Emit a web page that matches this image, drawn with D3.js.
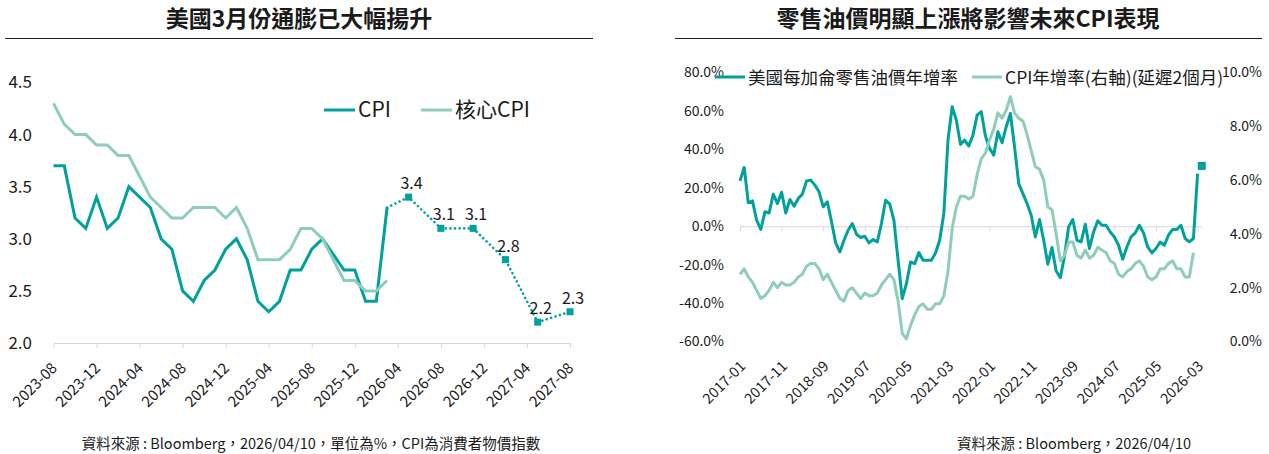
<!DOCTYPE html>
<html>
<head>
<meta charset="utf-8">
<script src="https://cdn.jsdelivr.net/npm/d3@7"></script>
<style>
body { margin: 0; background: #fff; }
text { font-family: "Noto Sans CJK TC", "Noto Sans", sans-serif; fill: #1a1a1a; }
</style>
</head>
<body>
<svg id="chart" width="1269" height="454"></svg>
<script>
// ---- left chart data (monthly from 2023-08) ----
var leftStart = "2023-08";
var leftTickLabels = ["2023-08","2023-12","2024-04","2024-08","2024-12","2025-04","2025-08",
                      "2025-12","2026-04","2026-08","2026-12","2027-04","2027-08"];
var cpi     = [3.7,3.7,3.2,3.1,3.4,3.1,3.2,3.5,3.4,3.3,3.0,2.9,2.5,2.4,2.6,2.7,2.9,3.0,
               2.8,2.4,2.3,2.4,2.7,2.7,2.9,3.0,null,2.7,2.7,2.4,2.4,3.3];
var coreCpi = [4.3,4.1,4.0,4.0,3.9,3.9,3.8,3.8,3.6,3.4,3.3,3.2,3.2,3.3,3.3,3.3,3.2,3.3,
               3.1,2.8,2.8,2.8,2.9,3.1,3.1,3.0,null,2.6,2.6,2.5,2.5,2.6];
var fcMonths = ["2026-05","2026-08","2026-11","2027-02","2027-05","2027-08"];
var fcValues = [3.4,3.1,3.1,2.8,2.2,2.3];
var leftYTicks = [2.0,2.5,3.0,3.5,4.0,4.5];

// ---- right chart data (monthly from 2017-01) ----
var rightStart = "2017-01";
var rightTickLabels = ["2017-01","2017-11","2018-09","2019-07","2020-05","2021-03",
                       "2022-01","2022-11","2023-09","2024-07","2025-05","2026-03"];
var gasYoY = [23.6,30.6,12.2,13.2,3.1,-1.7,7.5,6.9,16.7,11.8,17.7,6.9,
              13.9,10.4,14.4,16.7,23.6,24.0,21.4,17.9,10.1,12.7,2.3,-8.7,
              -13.4,-7.3,-2.1,1.4,-4.2,-5.9,-5.2,-8.7,-6.9,-8.2,1.4,13.5,
              11.5,3.1,-17.7,-37.7,-29.9,-18.6,-19.5,-13.7,-17.7,-17.7,-17.7,-13.9,
              -7.3,6.6,44.8,62.2,55.2,42.6,44.8,41.7,47.4,57.8,59.6,46.9,
              40.5,37.0,49.2,43.4,51.8,58.7,41.3,22.2,17.0,11.8,5.7,-5.6,
              3.5,-7.3,-19.8,-11.1,-23.3,-26.8,-15.6,-0.3,3.5,-7.3,-8.2,1.0,
              -11.6,-3.0,2.8,0.5,0.5,-3.0,-5.6,-9.9,-17.2,-10.8,-5.6,-3.5,
              0.5,-3.5,-10.8,-13.9,-11.6,-8.2,-9.9,-4.7,-1.7,-1.7,0.5,-6.4,
              -8.2,-6.4,27.4];
var cpiYoY = [2.5,2.7,2.4,2.2,1.9,1.6,1.7,1.9,2.2,2.0,2.2,2.1,
              2.1,2.2,2.4,2.5,2.8,2.9,2.9,2.7,2.3,2.5,2.2,1.9,
              1.6,1.5,1.9,2.0,1.8,1.6,1.8,1.7,1.7,1.8,2.1,2.3,
              2.5,2.3,1.5,0.3,0.1,0.6,1.0,1.3,1.4,1.2,1.2,1.4,
              1.4,1.7,2.6,4.2,5.0,5.4,5.4,5.3,5.4,6.2,6.8,7.0,
              7.5,7.9,8.5,8.3,8.6,9.1,8.5,8.3,8.2,7.7,7.1,6.5,
              6.4,6.0,5.0,4.9,4.0,3.0,3.2,3.7,3.7,3.2,3.1,3.4,
              3.1,3.2,3.5,3.4,3.3,3.0,2.9,2.5,2.4,2.6,2.7,2.9,
              3.0,2.8,2.4,2.3,2.4,2.7,2.7,2.9,3.0,2.7,2.7,2.4,
              2.4,3.3];
var gasEstMonth = "2026-04";
var gasEstValue = 31.4;
var rightLTicks = [-60,-40,-20,0,20,40,60,80];
var rightRTicks = [0,2,4,6,8,10];

var dark = "#00a19c", light = "#8fcdb9", axisGrey = "#d9d9d9";

function monthIndex(s, base) {
  var a = s.split("-"), b = base.split("-");
  return (+a[0] - +b[0]) * 12 + (+a[1] - +b[1]);
}

var svg = d3.select("#chart");

// ================= LEFT CHART =================
var xL = d3.scaleLinear().domain([0, 48]).range([53.5, 570]);
var yL = d3.scaleLinear().domain([2, 4.5]).range([343, 82.5]);

svg.append("text").attr("x", 299).attr("y", 27).attr("text-anchor", "middle")
  .style("font-size", "23px").style("font-weight", "bold").text("美國3月份通膨已大幅揚升");
svg.append("line").attr("x1", 5).attr("x2", 593).attr("y1", 38.5).attr("y2", 38.5)
  .attr("stroke", "#222").attr("stroke-width", 1.2);

var gyL = svg.append("g").attr("transform", "translate(32,0)")
  .call(d3.axisLeft(yL).tickValues(leftYTicks).tickFormat(d3.format(".1f")).tickSize(0).tickPadding(0));
gyL.select(".domain").remove();
gyL.selectAll("text").style("font-size", "17px").style("font-family", null);

var gxL = svg.append("g").attr("transform", "translate(0," + yL(2) + ")")
  .call(d3.axisBottom(xL).tickValues(d3.range(0, 49, 4)).tickSize(5).tickSizeOuter(0)
    .tickFormat(function(d, i) { return leftTickLabels[i]; }));
gxL.select(".domain").attr("stroke", axisGrey);
gxL.selectAll(".tick line").attr("stroke", axisGrey);
gxL.selectAll("text")
  .attr("x", 4).attr("y", 26).attr("dy", null)
  .attr("text-anchor", "end")
  .attr("transform", "rotate(-45 4 26)")
  .style("font-size", "15px").style("font-family", null);

var lineL = d3.line().x(function(d) { return xL(d.i); }).y(function(d) { return yL(d.v); });
function pts(arr) {
  return arr.map(function(v, i) { return {i: i, v: v}; }).filter(function(d) { return d.v != null; });
}

svg.append("path").datum(pts(cpi)).attr("d", lineL)
  .attr("fill", "none").attr("stroke", dark).attr("stroke-width", 3);
svg.append("path").datum(pts(coreCpi)).attr("d", lineL)
  .attr("fill", "none").attr("stroke", light).attr("stroke-width", 3);

var fc = fcMonths.map(function(m, k) { return {i: monthIndex(m, leftStart), v: fcValues[k]}; });
var lastCpi = {i: cpi.length - 1, v: cpi[cpi.length - 1]};
svg.append("path").datum([lastCpi].concat(fc)).attr("d", lineL)
  .attr("fill", "none").attr("stroke", dark).attr("stroke-width", 2.6)
  .attr("stroke-linecap", "round").attr("stroke-dasharray", "0.01 4.6");
svg.selectAll(".fcsq").data(fc).enter().append("rect")
  .attr("x", function(d) { return xL(d.i) - 3.5; })
  .attr("y", function(d) { return yL(d.v) - 3.5; })
  .attr("width", 7).attr("height", 7).attr("fill", dark);
svg.selectAll(".fclab").data(fc).enter().append("text")
  .attr("x", function(d) { return xL(d.i) + 3; })
  .attr("y", function(d) { return yL(d.v) - 8; })
  .attr("text-anchor", "middle").style("font-size", "16px")
  .text(function(d) { return d.v.toFixed(1); });

// legend
var legL = [{x: 324, label: "CPI", c: dark}, {x: 421, label: "核心CPI", c: light}];
legL.forEach(function(l) {
  svg.append("line").attr("x1", l.x).attr("x2", l.x + 31).attr("y1", 110).attr("y2", 110)
    .attr("stroke", l.c).attr("stroke-width", 3);
  svg.append("text").attr("x", l.x + 34).attr("y", 117).style("font-size", "21px").text(l.label);
});

svg.append("text").attr("x", 311).attr("y", 449).attr("text-anchor", "middle")
  .style("font-size", "14.5px")
  .text("資料來源 : Bloomberg，2026/04/10，單位為%，CPI為消費者物價指數");

// ================= RIGHT CHART =================
var xR = d3.scaleLinear().domain([0, 111]).range([740, 740 + 4.16 * 111]);
var yRL = d3.scaleLinear().domain([-60, 80]).range([341.5, 72.5]);
var yRR = d3.scaleLinear().domain([0, 10]).range([341.5, 72.5]);

svg.append("text").attr("x", 968).attr("y", 27).attr("text-anchor", "middle")
  .style("font-size", "23px").style("font-weight", "bold").text("零售油價明顯上漲將影響未來CPI表現");
svg.append("line").attr("x1", 675).attr("x2", 1262).attr("y1", 38.5).attr("y2", 38.5)
  .attr("stroke", "#222").attr("stroke-width", 1.2);

var gRL = svg.append("g").attr("transform", "translate(724,0)")
  .call(d3.axisLeft(yRL).tickValues(rightLTicks).tickSize(0).tickPadding(0)
    .tickFormat(function(d) { return d.toFixed(1) + "%"; }));
gRL.select(".domain").remove();
gRL.selectAll("text").style("font-size", "14px").style("font-family", null);

var gRR = svg.append("g").attr("transform", "translate(1262,0)")
  .call(d3.axisRight(yRR).tickValues(rightRTicks).tickSize(0).tickPadding(0)
    .tickFormat(function(d) { return d.toFixed(1) + "%"; }));
gRR.select(".domain").remove();
gRR.selectAll("text").attr("text-anchor", "end").style("font-size", "14px").style("font-family", null);

var zeroY = yRL(0);
var gxR = svg.append("g").attr("transform", "translate(0," + zeroY + ")")
  .call(d3.axisBottom(xR).tickValues(d3.range(0, 111, 10)).tickSize(5).tickSizeOuter(0)
    .tickFormat(function(d, i) { return rightTickLabels[i]; }));
gxR.select(".domain").attr("stroke", axisGrey);
gxR.selectAll(".tick line").attr("stroke", axisGrey);
var labY = 367 - zeroY;
gxR.selectAll("text")
  .attr("x", 6).attr("y", labY).attr("dy", null)
  .attr("text-anchor", "end")
  .attr("transform", "rotate(-45 6 " + labY + ")")
  .style("font-size", "14.5px").style("font-family", null);

var lineGas = d3.line().x(function(d) { return xR(d.i); }).y(function(d) { return yRL(d.v); });
var lineCpi = d3.line().x(function(d) { return xR(d.i); }).y(function(d) { return yRR(d.v); });

svg.append("path").datum(pts(gasYoY)).attr("d", lineGas)
  .attr("fill", "none").attr("stroke", dark).attr("stroke-width", 3).attr("stroke-linejoin", "round");
svg.append("path").datum(pts(cpiYoY)).attr("d", lineCpi)
  .attr("fill", "none").attr("stroke", light).attr("stroke-width", 3).attr("stroke-linejoin", "round");

var est = {i: monthIndex(gasEstMonth, rightStart), v: gasEstValue};
svg.append("rect").attr("x", xR(est.i) - 4).attr("y", yRL(est.v) - 4)
  .attr("width", 8).attr("height", 8).attr("fill", dark);

var legR = [{x: 715, label: "美國每加侖零售油價年增率", c: dark},
            {x: 972, label: "CPI年增率(右軸)(延遲2個月)", c: light}];
legR.forEach(function(l) {
  svg.append("line").attr("x1", l.x).attr("x2", l.x + 30).attr("y1", 77).attr("y2", 77)
    .attr("stroke", l.c).attr("stroke-width", 3);
  svg.append("text").attr("x", l.x + 33).attr("y", 83.5).style("font-size", "17.5px").text(l.label);
});

svg.append("text").attr("x", 957).attr("y", 449)
  .style("font-size", "14.5px").text("資料來源 : Bloomberg，2026/04/10");
</script>
</body>
</html>
